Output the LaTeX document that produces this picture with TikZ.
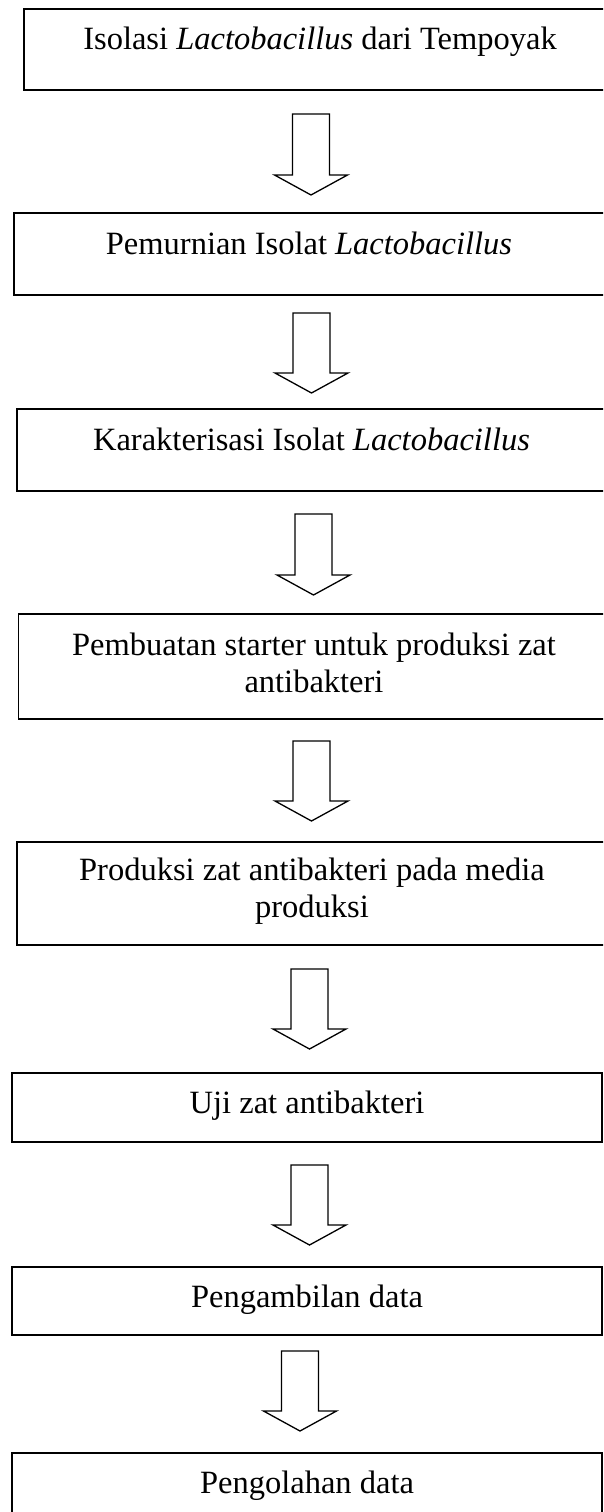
\documentclass[tikz,border=0pt]{standalone}
\usepackage{fontspec}
\setmainfont{Liberation Serif}
\usetikzlibrary{calc}
\tikzset{
  stepbox/.style={draw=black, line width=1.9pt, rectangle, inner sep=0pt, outer sep=0pt, anchor=north west},
  lbl/.style={inner sep=0pt, outer sep=0pt, font=\fontsize{32.5}{37.5}\selectfont, align=center, anchor=base},
  barrow/.style={draw=black, line width=1.3pt, line join=miter, fill=white},
}
\newcommand\blockarr[4]{%
  \coordinate (#1s) at (#2,#3);
  \coordinate (#1e) at (#2,#4);
  \draw[barrow] ($(#1s)+(-18.5,0)$) -- ($(#1s)+(18.5,0)$) -- ($(#1e)+(18.5,-20)$)
    -- ($(#1e)+(36.5,-20)$) -- (#1e) -- ($(#1e)+(-36.5,-20)$) -- ($(#1e)+(-18.5,-20)$) -- cycle;
}
\begin{document}
\begin{tikzpicture}[x=1pt,y=-1pt]
\useasboundingbox (0,0) rectangle (603,1512);
\fill[white] (0,0) rectangle (603,1512);
\clip (0,0) rectangle (603,1512);

% boxes
\node[stepbox, minimum width=582pt, minimum height=81pt] (b1) at (24,9) {};
\node[stepbox, minimum width=592pt, minimum height=82pt] (b2) at (14,213) {};
\node[stepbox, minimum width=589pt, minimum height=82pt] (b3) at (17,409) {};
\node[stepbox, minimum width=587.5pt, minimum height=105pt] (b4) at (18.5,614) {};
\node[stepbox, minimum width=589pt, minimum height=103pt] (b5) at (17,842) {};
\node[stepbox, minimum width=590pt, minimum height=69pt] (b6) at (12,1073) {};
\node[stepbox, minimum width=590pt, minimum height=68pt] (b7) at (12,1267) {};
\node[stepbox, minimum width=590pt, minimum height=80pt] (b8) at (12,1453) {};

% labels (base anchor = baseline of last line)
\node[lbl] (t1) at (320,50) {Isolasi \textit{Lactobacillus} dari Tempoyak};
\node[lbl] (t2) at (309,254) {Pemurnian Isolat \textit{Lactobacillus}};
\node[lbl] (t3) at (311.5,450) {Karakterisasi Isolat \textit{Lactobacillus}};
\node[lbl] (t4) at (314,692.5) {Pembuatan starter untuk produksi zat\\antibakteri};
\node[lbl] (t5) at (312,917.5) {Produksi zat antibakteri pada media\\produksi};
\node[lbl] (t6) at (307,1113) {Uji zat antibakteri};
\node[lbl] (t7) at (307,1307) {Pengambilan data};
\node[lbl] (t8) at (307,1493) {Pengolahan data};

% block arrows
\blockarr{a1}{311}{114}{195}
\blockarr{a2}{311.5}{313}{393}
\blockarr{a3}{313.5}{514}{595}
\blockarr{a4}{311.5}{741}{821}
\blockarr{a5}{309.5}{969}{1049}
\blockarr{a6}{309.5}{1165}{1245}
\blockarr{a7}{300}{1351}{1431}
\end{tikzpicture}
\end{document}
